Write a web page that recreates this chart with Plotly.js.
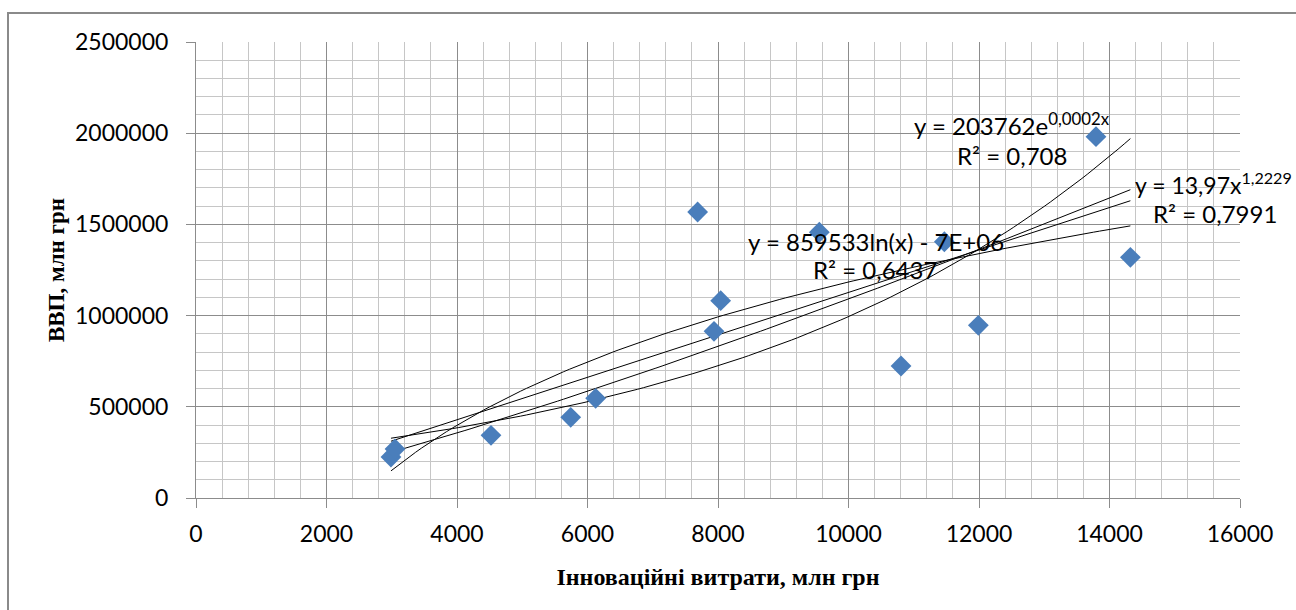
<!DOCTYPE html>
<html>
<head>
<meta charset="utf-8">
<script src="https://cdn.plot.ly/plotly-3.0.1.min.js"></script>
<style>
  html, body { margin: 0; padding: 0; background: #ffffff; }
  #frame { position: absolute; left: 7px; top: 12px; width: 1400px; height: 700px; border: 2px solid #8a8a8a; box-sizing: border-box; }
  #chart { position: absolute; left: 0; top: 0; width: 1296px; height: 610px; }
</style>
</head>
<body>
<div id="frame"></div>
<div id="chart"></div>
<script>
// Innovation expenditure, mln UAH (x) and GDP, mln UAH (y)
const innovationCosts = [2988, 3050, 4521, 5743, 6125, 7688, 7939, 8041, 9553, 10805, 11469, 11990, 13793, 14320];
const gdpValues       = [224800, 268600, 343700, 442400, 546500, 1568000, 913700, 1081800, 1457000, 723700, 1405000, 946800, 1981000, 1319600];

const xTickVals = [0, 2000, 4000, 6000, 8000, 10000, 12000, 14000, 16000];
const yTickVals = [0, 500000, 1000000, 1500000, 2000000, 2500000];

const xTitle = 'Інноваційні витрати, млн грн';
const yTitle = 'ВВП, млн грн';

const expLabel = ['y = 203762e<sup>0,0002x</sup>', 'R² = 0,708'];
const powLabel = ['y = 13,97x<sup>1,2229</sup>', 'R² = 0,7991'];
const logLabel = ['y = 859533ln(x) - 7E+06', 'R² = 0,6437'];

// least squares helper
function linfit(xs, ys) {
  const n = xs.length;
  let sx = 0, sy = 0, sxx = 0, sxy = 0;
  for (let i = 0; i < n; i++) { sx += xs[i]; sy += ys[i]; sxx += xs[i]*xs[i]; sxy += xs[i]*ys[i]; }
  const b = (n*sxy - sx*sy) / (n*sxx - sx*sx);
  const a = (sy - b*sx) / n;
  return {a, b};
}
const lnX = innovationCosts.map(Math.log);
const lnY = gdpValues.map(Math.log);
const lin = linfit(innovationCosts, gdpValues);
const ex = linfit(innovationCosts, lnY);
const pw = linfit(lnX, lnY);
const lg = linfit(lnX, gdpValues);

const xmin = Math.min(...innovationCosts), xmax = Math.max(...innovationCosts);
const N = 120;
const xs = [];
for (let i = 0; i <= N; i++) xs.push(xmin + (xmax - xmin) * i / N);

const lineStyle = {color: '#000000', width: 1};
const trends = [
  {x: xs, y: xs.map(v => lin.a + lin.b*v)},
  {x: xs, y: xs.map(v => Math.exp(ex.a + ex.b*v))},
  {x: xs, y: xs.map(v => Math.exp(pw.a) * Math.pow(v, pw.b))},
  {x: xs, y: xs.map(v => lg.a + lg.b*Math.log(v))}
].map(t => Object.assign(t, {type: 'scatter', mode: 'lines', line: lineStyle, hoverinfo: 'skip', showlegend: false}));

const points = {
  type: 'scatter', mode: 'markers',
  x: innovationCosts, y: gdpValues,
  marker: {symbol: 'diamond', size: 16, color: '#4a7ebb', line: {width: 0}},
  showlegend: false
};

const labelFont = {family: 'Lato, "Open Sans", sans-serif', size: 24, color: '#000000'};
function ann(text, x, y, xanchor) {
  return {text, x, y, xref: 'x', yref: 'y', showarrow: false, xanchor: xanchor || 'center', yanchor: 'middle', font: labelFont};
}

const layout = {
  width: 1296, height: 610,
  margin: {l: 196, r: 56, t: 42, b: 112},
  paper_bgcolor: 'rgba(0,0,0,0)',
  plot_bgcolor: '#ffffff',
  showlegend: false,
  font: {family: 'Lato, "Open Sans", sans-serif', size: 22, color: '#000000'},
  xaxis: {
    range: [0, 16000], tickvals: xTickVals, ticktext: xTickVals.map(String),
    showgrid: true, gridcolor: '#8c8c8c', gridwidth: 1,
    minor: {dtick: 400, tick0: 0, showgrid: true, gridcolor: '#c6c6c6', gridwidth: 1},
    zeroline: false, showline: true, linecolor: '#8c8c8c', linewidth: 1,
    ticks: 'outside', ticklen: 9, tickcolor: '#8c8c8c', ticklabelstandoff: 6,
    tickfont: {family: 'Lato, "Open Sans", sans-serif', size: 23, color: '#000000'},
    title: {text: xTitle, font: {family: '"Liberation Serif", "Times New Roman", serif', size: 24, color: '#000000', weight: 'bold'}, standoff: 22},
    fixedrange: true
  },
  yaxis: {
    range: [0, 2500000], tickvals: yTickVals, ticktext: yTickVals.map(String),
    showgrid: true, gridcolor: '#8c8c8c', gridwidth: 1,
    minor: {dtick: 100000, tick0: 0, showgrid: true, gridcolor: '#c6c6c6', gridwidth: 1},
    zeroline: false, showline: true, linecolor: '#8c8c8c', linewidth: 1,
    ticks: 'outside', ticklen: 9, tickcolor: '#8c8c8c', ticklabelstandoff: 13,
    tickfont: {family: 'Lato, "Open Sans", sans-serif', size: 23, color: '#000000'},
    title: {text: yTitle, font: {family: '"Liberation Serif", "Times New Roman", serif', size: 23, color: '#000000', weight: 'bold'}, standoff: 3},
    fixedrange: true
  },
  annotations: [
    ann(expLabel[0], 12506, 2050000),
    ann(expLabel[1], 12506, 1880500),
    {text: powLabel[0], x: 1.0517, y: 1727000, xref: 'paper', yref: 'y', showarrow: false,
     xanchor: 'right', yanchor: 'middle', font: Object.assign({}, labelFont, {size: 23})},
    ann(powLabel[1], 15617, 1562500),
    ann(logLabel[0], 10429, 1409000),
    ann(logLabel[1], 10406, 1255500)
  ]
};

Plotly.newPlot('chart', trends.concat([points]), layout, {displayModeBar: false, staticPlot: true});
</script>
</body>
</html>
